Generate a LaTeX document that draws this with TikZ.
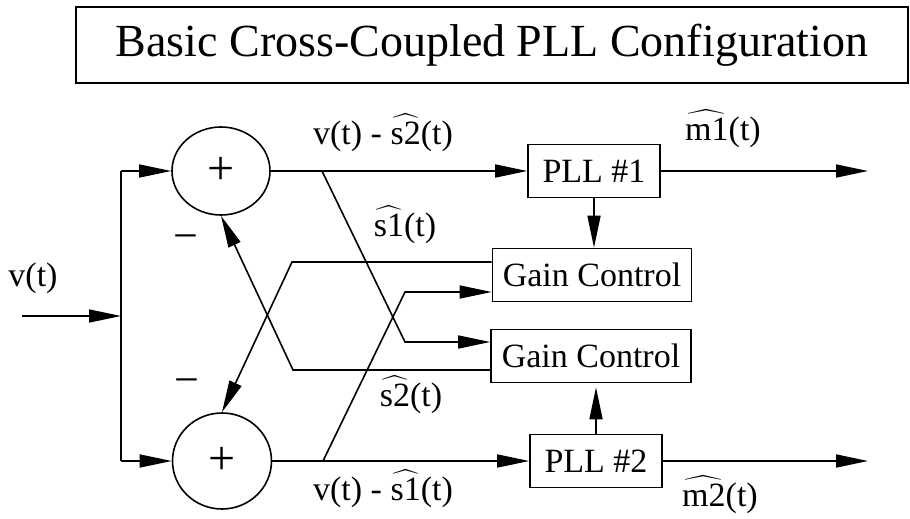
\RequirePackage{fix-cm}
\documentclass[tikz,border=0pt]{standalone}
\usepackage{amsmath}
\usepackage{fontspec}
\setmainfont{Liberation Serif}
\usetikzlibrary{arrows.meta,shapes.geometric,calc}

% wide hat over a text-font group, e.g. s2 or m1
\newcommand{\hatted}[1]{$\widehat{\mbox{#1}}$}

\begin{document}
\begin{tikzpicture}[x=1pt,y=-1pt,
  wire/.style={line width=1.6pt},
  arr/.style={wire,-{Triangle[length=32pt,width=13pt]}},
  blk/.style={draw,line width=1.6pt,rectangle,inner sep=0pt,minimum height=53pt,
              font=\fontsize{34}{40}\selectfont},
  sumnode/.style={draw,line width=1.6pt,ellipse,inner sep=0pt,
              font=\fontsize{48}{52}\selectfont},
  lbl/.style={inner sep=0pt,font=\fontsize{34}{40}\selectfont},
  minus/.style={inner sep=0pt,font=\fontsize{44}{48}\selectfont},
]
\useasboundingbox (0,0) rectangle (910,519);

% title
\node[draw,line width=1.6pt,minimum width=832pt,minimum height=76pt,inner sep=0pt,
      font=\fontsize{46}{52}\selectfont] (title) at (492,45)
      {Basic Cross-Coupled PLL Configuration};

% summing junctions
\node[sumnode,minimum width=98pt,minimum height=88pt] (sum1) at (221,171) {+};
\node[sumnode,minimum width=99pt,minimum height=96pt] (sum2) at (222,461) {+};

% blocks
\node[blk,minimum width=132pt] (pll1) at (594,171) {PLL \#1};
\node[blk,minimum width=132pt] (pll2) at (596,461) {PLL \#2};
\node[blk,minimum width=199pt] (gc1) at (592,275) {Gain Control};
\node[blk,minimum width=200pt] (gc2) at (591,356) {Gain Control};

% routing points
\coordinate (vin) at (22,316);
\coordinate (jn) at (121,316);
\coordinate (jt) at (121,171);
\coordinate (jb) at (121,461);
\coordinate (b1) at (322,171);
\coordinate (b2) at (323,461);
\coordinate (k1) at (405,342);
\coordinate (k2) at (405,292);
\coordinate (k3) at (292,262);
\coordinate (k4) at (293,370);
\coordinate (out1) at (868,171);
\coordinate (out2) at (868,461);

% input and splitting
\draw[arr] (vin) -- (jn);
\draw[wire] (jt) -- (jb);
\draw[arr] (jt) -- (sum1.west);
\draw[arr] (jb) -- (sum2.west);

% forward paths
\draw[arr] (sum1.east) -- (pll1.west);
\draw[arr] (sum2.east) -- (pll2.west);
\draw[arr] (pll1.east) -- (out1);
\draw[arr] (pll2.east) -- (out2);
\draw[arr] (pll1.south) -- (pll1.south |- gc1.north);
\draw[arr,shorten >=4pt] (pll2.north) -- (pll2.north |- gc2.south);

% cross-coupling
\draw[arr] (b1) -- (k1) -- (k1 -| gc2.west);
\draw[arr] (b2) -- (k2) -- (k2 -| gc1.west);
\draw[arr] (k3 -| gc1.west) -- (k3) -- (sum2.north);
\draw[arr] (k4 -| gc2.west) -- (k4) -- (sum1.south);

% signal labels
\node[lbl,anchor=base] (lv) at (33,286) {v(t)};
\node[lbl,anchor=base] (l1) at (383,144) {v(t) - \hatted{s2}(t)};
\node[lbl,anchor=base] (l2) at (405,236) {\hatted{s1}(t)};
\node[lbl,anchor=base] (l3) at (411,406) {\hatted{s2}(t)};
\node[lbl,anchor=base] (l4) at (383,500) {v(t) - \hatted{s1}(t)};
\node[lbl,anchor=base] (l5) at (723,140) {\hatted{m1}(t)};
\node[lbl,anchor=base] (l6) at (720,506) {\hatted{m2}(t)};
\node[minus] (mn1) at (186,243) {−};
\node[minus] (mn2) at (187,387) {−};
\end{tikzpicture}
\end{document}
